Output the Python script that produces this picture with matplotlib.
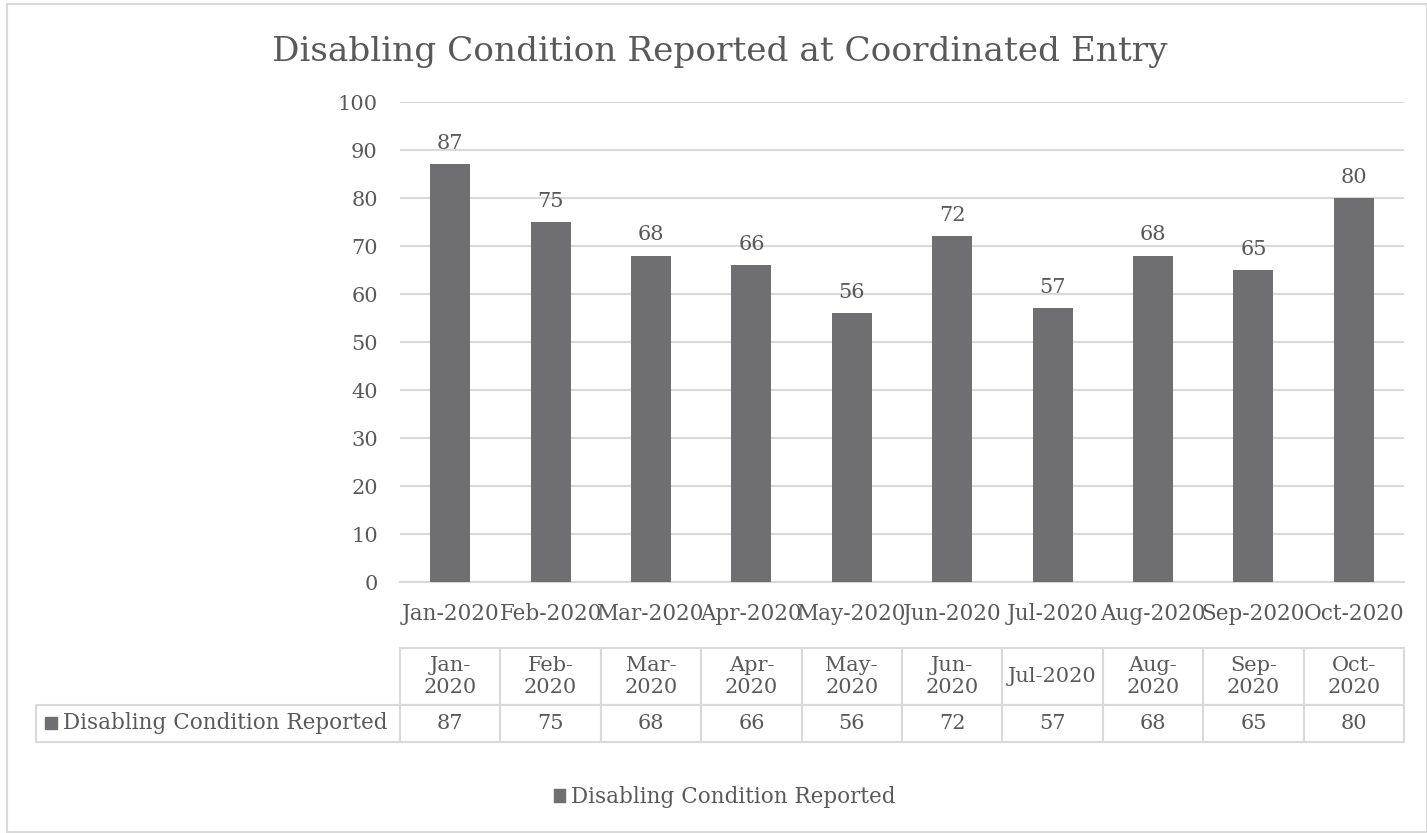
import matplotlib.pyplot as plt
from matplotlib.patches import Rectangle, Patch

# data
months = ['Jan-2020', 'Feb-2020', 'Mar-2020', 'Apr-2020', 'May-2020',
          'Jun-2020', 'Jul-2020', 'Aug-2020', 'Sep-2020', 'Oct-2020']
values = [87, 75, 68, 66, 56, 72, 57, 68, 65, 80]
series_name = 'Disabling Condition Reported'
title = 'Disabling Condition Reported at Coordinated Entry'

bar_color = '#6f6e73'
text_color = '#595959'
grid_color = '#d9d9d9'

plt.rcParams['font.family'] = ['DejaVu Serif', 'DejaVu Sans']
plt.rcParams['text.color'] = text_color

W, H = 1427, 833
fig = plt.figure(figsize=(W / 100, H / 100), dpi=100)

# outer frame
fig.patches.append(Rectangle((7 / W, 1 - 832 / H), (W - 7) / W, (832 - 4) / H,
                             transform=fig.transFigure, fill=False,
                             edgecolor=grid_color, linewidth=1.5))

ax_w, ax_h = 1004, 480
ax = fig.add_axes([400 / W, 1 - 582 / H, ax_w / W, ax_h / H])
x = range(len(months))
bars = ax.bar(x, values, width=0.4, color=bar_color, label=series_name, zorder=3)
ax.bar_label(bars, padding=8, fontsize=15, color=text_color)

ax.set_xlim(-0.5, len(months) - 0.5)
ax.set_ylim(0, 100)
ax.set_yticks(range(0, 101, 10))
ax.set_xticks(list(x))
ax.set_xticklabels(months, fontsize=15.5)
ax.grid(axis='y', color=grid_color, linewidth=1.5, zorder=0)
for s in ['top', 'right', 'left']:
    ax.spines[s].set_visible(False)
ax.spines['bottom'].set_color(grid_color)
ax.spines['bottom'].set_linewidth(1.5)
ax.tick_params(axis='both', length=0, labelcolor=text_color)
ax.tick_params(axis='y', pad=16, labelsize=15)
ax.tick_params(axis='x', pad=15)

fig.text(719.5 / W, 1 - 52 / H, title, ha='center', va='center', fontsize=24.7,
         color=text_color)

# data table below the chart; first column holds the series name
col_labels = [''] + [m if m == 'Jul-2020' else m.replace('-', '-\n') for m in months]
cell_text = [[series_name] + [str(v) for v in values]]
left_px, label_w = 36, 364
tb = ax.table(cellText=cell_text, colLabels=col_labels, cellLoc='center',
              bbox=[(left_px - 400) / ax_w, (582 - 742) / ax_h,
                    (1404 - left_px) / ax_w, (742 - 648) / ax_h])
tb.auto_set_font_size(False)
for (r, c), cell in tb.get_celld().items():
    cell.set_edgecolor(grid_color)
    cell.set_linewidth(1.5)
    cell.get_text().set_fontsize(15)
    cell.get_text().set_color(text_color)
    cell.set_height((57 if r == 0 else 37) / ax_h)
    cell.set_width((label_w if c == 0 else 100.4) / ax_w)
    cell.PAD = 27 / label_w
    if c == 0:
        if r == 0:
            cell.set_visible(False)
        else:
            cell.get_text().set_horizontalalignment('left')
            cell.get_text().set_fontsize(15.5)

# legend key inside the table's series name cell
fig.patches.append(Rectangle((45 / W, 1 - 729 / H), 12 / W, 12 / H,
                             transform=fig.transFigure, color=bar_color))

fig.legend(handles=[Patch(color=bar_color, label=series_name)],
           loc='center', bbox_to_anchor=(724.5 / W, 1 - 797 / H), frameon=False,
           fontsize=15.5, handlelength=0.55, handleheight=0.55, handletextpad=0.25,
           labelcolor=text_color)

fig.savefig('out.png', dpi=100)
